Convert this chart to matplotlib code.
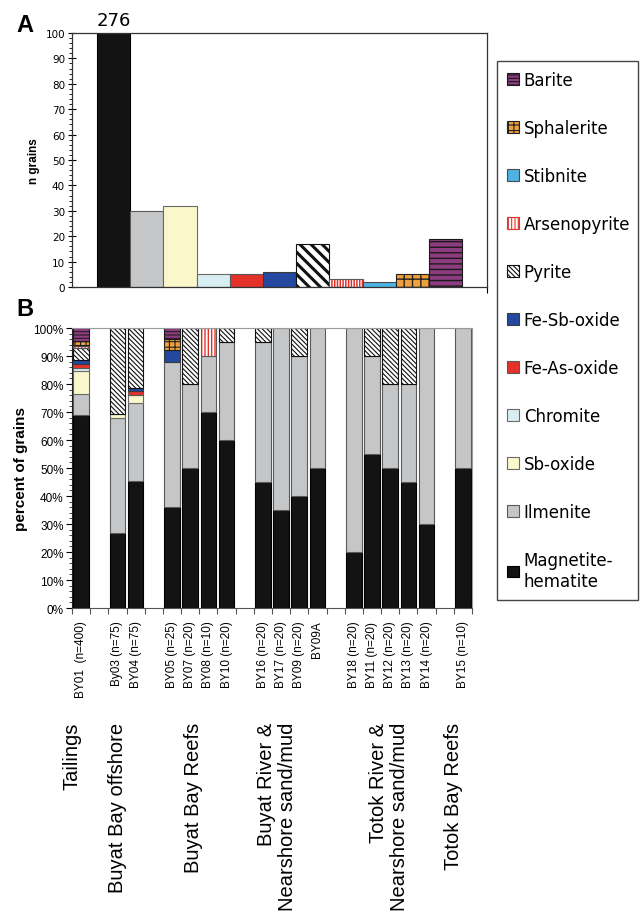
import matplotlib
matplotlib.use("Agg")
import matplotlib.pyplot as plt
from matplotlib.patches import Patch
from matplotlib.ticker import MultipleLocator, PercentFormatter
import numpy as np

plt.rcParams["font.family"] = ["Liberation Sans", "DejaVu Sans"]

# ---------------- data ----------------
minerals = ["Magnetite-\nhematite", "Ilmenite", "Sb-oxide", "Chromite", "Fe-As-oxide",
            "Fe-Sb-oxide", "Pyrite", "Arsenopyrite", "Stibnite", "Sphalerite", "Barite"]

# grain counts in the tailings sample (BY01)
tailings_counts = [276, 30, 32, 5, 5, 6, 17, 3, 2, 5, 19]

groups = ["Tailings", "Buyat Bay offshore", "Buyat Bay Reefs",
          "Buyat River &\nNearshore sand/mud", "Totok River &\nNearshore sand/mud",
          "Totok Bay Reefs"]
group_sizes = [1, 2, 4, 4, 5, 1]
sample_labels = ["BY01  (n=400)", "By03 (n=75)", "BY04 (n=75)",
                 "BY05 (n=25)", "BY07 (n=20)", "BY08 (n=10)", "BY10 (n=20)",
                 "BY16 (n=20)", "BY17 (n=20)", "BY09 (n=20)", "BY09A",
                 "BY18 (n=20)", "BY11 (n=20)", "BY12 (n=20)", "BY13 (n=20)", "BY14 (n=20)",
                 "BY15 (n=10)"]

# percent of grains per sample, one list per mineral
pct_magnetite = [69, 26.67, 45.33, 36, 50, 70, 60, 45, 35, 40, 50, 20, 55, 50, 45, 30, 50]
pct_ilmenite = [7.5, 41.33, 28, 52, 30, 20, 35, 50, 65, 50, 50, 80, 35, 30, 35, 70, 50]
pct_sb_oxide = [8, 1.33, 2.67, 0, 0, 0, 0, 0, 0, 0, 0, 0, 0, 0, 0, 0, 0]
pct_chromite = [1.25, 0, 0, 0, 0, 0, 0, 0, 0, 0, 0, 0, 0, 0, 0, 0, 0]
pct_fe_as = [1.25, 0, 1.33, 0, 0, 0, 0, 0, 0, 0, 0, 0, 0, 0, 0, 0, 0]
pct_fe_sb = [1.5, 0, 1.33, 4, 0, 0, 0, 0, 0, 0, 0, 0, 0, 0, 0, 0, 0]
pct_pyrite = [4.25, 30.67, 21.33, 0, 20, 0, 5, 5, 0, 10, 0, 0, 10, 20, 20, 0, 0]
pct_arsenopyrite = [0.75, 0, 0, 0, 0, 10, 0, 0, 0, 0, 0, 0, 0, 0, 0, 0, 0]
pct_stibnite = [0.5, 0, 0, 0, 0, 0, 0, 0, 0, 0, 0, 0, 0, 0, 0, 0, 0]
pct_sphalerite = [1.25, 0, 0, 4, 0, 0, 0, 0, 0, 0, 0, 0, 0, 0, 0, 0, 0]
pct_barite = [4.75, 0, 0, 4, 0, 0, 0, 0, 0, 0, 0, 0, 0, 0, 0, 0, 0]

percent_rows = [pct_magnetite, pct_ilmenite, pct_sb_oxide, pct_chromite, pct_fe_as,
                pct_fe_sb, pct_pyrite, pct_arsenopyrite, pct_stibnite, pct_sphalerite,
                pct_barite]

# ---------------- styles ----------------
RED = "#e4322b"
styles = [
    dict(fc="#131313", ec="#000000"),
    dict(fc="#c4c6c8", ec="#5a5a5a"),
    dict(fc="#fbf7cc", ec="#6a6a6a"),
    dict(fc="#d9eef3", ec="#6a6a6a"),
    dict(fc=RED, ec="#5a5a5a"),
    dict(fc="#2447a0", ec="#3a3a3a"),
    dict(fc="white", ec="#111111", hatch_a="\\\\\\", hatch_b="\\\\\\\\\\\\\\",
         hlw_a=2.2, hlw_b=0.8),
    dict(fc="white", ec="#5a5a5a", hatch_a="||||||", hatch_b="|||||", hc=RED,
         hlw_a=1.1, hlw_b=1.0),
    dict(fc="#4db3e2", ec="#4a4a4a"),
    dict(fc="#f0a03a", ec="#222222", hatch_a="++", hatch_b="+++", hlw_a=1.0, hlw_b=0.8),
    dict(fc="#8c3c7f", ec="#1a1a1a", hatch_a="---", hatch_b="-----", hlw_a=1.0, hlw_b=0.7),
]


def set_hatch_lw(patches, lw):
    for p in patches:
        if hasattr(p, "set_hatch_linewidth"):
            p.set_hatch_linewidth(lw)


def draw_bars(ax, x, heights, bottom, width, st, panel):
    hatch = st.get("hatch_" + panel)
    hlw = st.get("hlw_" + panel, 1.0)
    if hatch and "hc" in st:
        # hatch drawn in its own colour, outline drawn separately
        bars = ax.bar(x, heights, width, bottom=bottom, color=st["fc"],
                      edgecolor=st["hc"], linewidth=0, hatch=hatch)
        set_hatch_lw(bars, hlw)
        ax.bar(x, heights, width, bottom=bottom, fill=False,
               edgecolor=st["ec"], linewidth=0.8)
    else:
        bars = ax.bar(x, heights, width, bottom=bottom, color=st["fc"],
                      edgecolor=st["ec"], linewidth=0.8, hatch=hatch)
        set_hatch_lw(bars, hlw)


plt.rcParams["hatch.linewidth"] = 1.0

fig = plt.figure(figsize=(6.44, 9.20), dpi=100)
W, H = 644.0, 920.0

# ---------------- panel A ----------------
axA = fig.add_axes([72 / W, 1 - 288 / H, 415 / W, 254 / H])
xa = np.arange(len(tailings_counts))
for i, st in enumerate(styles):
    draw_bars(axA, [xa[i]], [tailings_counts[i]], 0, 1.0, st, "a")
axA.set_xlim(-1.25, len(tailings_counts) + 0.25)
axA.set_ylim(0, 100)
axA.yaxis.set_major_locator(MultipleLocator(10))
axA.yaxis.set_minor_locator(MultipleLocator(2))
axA.tick_params(axis="y", which="major", direction="inout", length=6, width=0.8,
                labelsize=7.5, pad=2)
axA.tick_params(axis="y", which="minor", direction="out", length=2.5, width=0.6)
for lab in axA.get_yticklabels():
    lab.set_family("DejaVu Sans")
axA.set_xticks([axA.get_xlim()[1]])
axA.set_xticklabels([])
axA.tick_params(axis="x", direction="out", length=4, width=0.8)
for sp in axA.spines.values():
    sp.set_color("#333333")
    sp.set_linewidth(0.9)
axA.set_ylabel("n grains", fontsize=8.5, fontweight="bold", labelpad=4)
axA.annotate(f"{tailings_counts[0]}", xy=(xa[0], 100), xytext=(0, 3),
             textcoords="offset points", ha="center", va="bottom",
             fontsize=13, family="DejaVu Sans", annotation_clip=False)

# ---------------- panel B ----------------
axB = fig.add_axes([72 / W, 1 - 609 / H, 400 / W, 280 / H])
slots = []
pos = 0
for gs in group_sizes:
    slots.extend(range(pos, pos + gs))
    pos += gs + 1
slots = np.array(slots)
n_slots = pos - 1

cum = np.zeros(len(slots))
for row, st in zip(percent_rows, styles):
    vals = np.array(row, dtype=float)
    mask = vals > 0
    if mask.any():
        draw_bars(axB, slots[mask], vals[mask], cum[mask], 0.86, st, "b")
    cum += vals

axB.set_xlim(-0.5, n_slots - 0.5)
axB.set_ylim(0, 100)
axB.yaxis.set_major_locator(MultipleLocator(10))
axB.yaxis.set_minor_locator(MultipleLocator(2))
axB.yaxis.set_major_formatter(PercentFormatter(decimals=0))
axB.tick_params(axis="y", which="major", direction="out", length=4, width=0.8,
                labelsize=8.5, pad=2)
axB.tick_params(axis="y", which="minor", direction="out", length=2, width=0.5)
axB.set_xticks(np.arange(-0.5, n_slots, 1.0), minor=False)
axB.set_xticklabels([])
axB.tick_params(axis="x", which="major", direction="out", length=4, width=0.8,
                colors="#555555")
axB.set_xticks(slots, minor=True)
axB.set_xticklabels(sample_labels, minor=True, rotation=90, fontsize=8.5,
                    va="top", ha="center")
axB.tick_params(axis="x", which="minor", length=0, pad=9)
axB.spines["top"].set_color("#9a9a9a")
axB.spines["right"].set_color("#9a9a9a")
axB.spines["left"].set_color("#222222")
axB.spines["bottom"].set_color("#555555")
axB.set_ylabel("percent of grains", fontsize=11, fontweight="bold", labelpad=4)

# group names below the sample labels
group_x = [-0.5, 1.98, 6.16, 10.78, 16.94, 20.5]
blend = matplotlib.transforms.blended_transform_factory(axB.transData, fig.transFigure)
for gx, name in zip(group_x, groups):
    axB.text(gx, 1 - 723 / H, name, transform=blend, rotation=90, ha="center", va="top",
             multialignment="right", fontsize=14.5, linespacing=1.15)

# panel letters
fig.text(25 / W, 1 - 25 / H, "A", fontsize=17, fontweight="bold", ha="center", va="center")
fig.text(25 / W, 1 - 309 / H, "B", fontsize=17, fontweight="bold", ha="center", va="center")

# ---------------- legend ----------------
handles = []
for name, st in zip(minerals, styles):
    ec = st.get("hc", st["ec"])
    h = Patch(facecolor=st["fc"], edgecolor=ec, linewidth=0.8,
              hatch=st.get("hatch_b"), label=name)
    handles.append(h)
leg = fig.legend(handles[::-1], minerals[::-1], loc="upper left",
                 bbox_to_anchor=(497 / W, 1 - 62 / H, 141 / W, 0), mode="expand",
                 prop=dict(family="DejaVu Sans", size=12), frameon=True,
                 fancybox=False, edgecolor="#444444", framealpha=1,
                 handlelength=0.7, handleheight=0.7, handletextpad=0.3,
                 labelspacing=1.8, borderpad=0.6, borderaxespad=0)
leg.get_frame().set_linewidth(1.0)
for lh in leg.legend_handles:
    set_hatch_lw([lh], 0.8)

fig.savefig("out.png", dpi=100, facecolor="white")
